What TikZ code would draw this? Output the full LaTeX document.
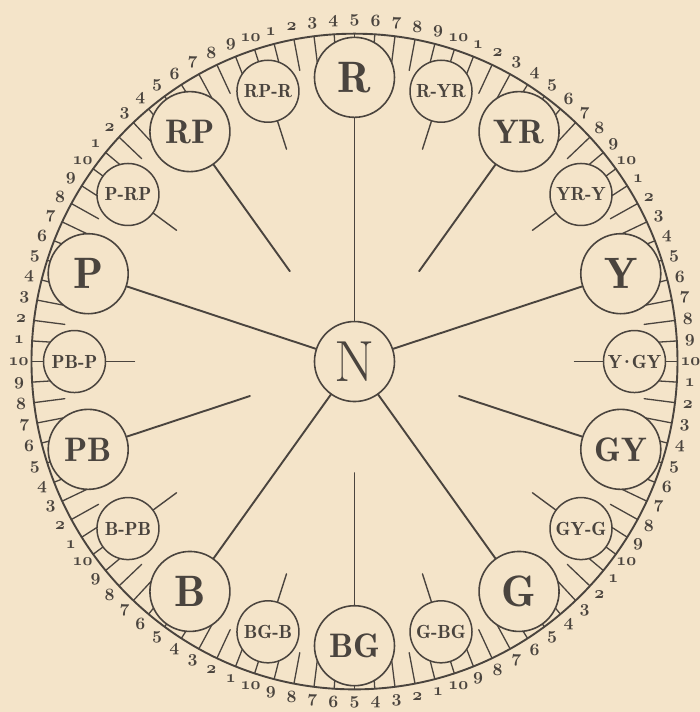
\documentclass[tikz,border=0pt]{standalone}
\definecolor{paper}{RGB}{244,228,201}
\definecolor{ink}{RGB}{74,68,62}
\newcommand{\osnum}[1]{{\fontencoding{OML}\fontfamily{cmm}\fontseries{b}\fontshape{it}\selectfont #1}}
\begin{document}
\begin{tikzpicture}[x=1pt,y=1.015pt,line cap=round,
  bigc/.style={circle,draw=ink,fill=paper,line width=1.6pt,inner sep=0pt,minimum size=80pt,text=ink},
  one/.style={bigc,font=\fontsize{44}{44}\fontseries{b}\selectfont},
  two/.style={bigc,font=\fontsize{34}{34}\fontseries{b}\selectfont},
  ncirc/.style={bigc,font=\fontsize{58}{58}\selectfont},
  smallc/.style={circle,draw=ink,fill=paper,line width=1.5pt,inner sep=0pt,minimum size=62pt,text=ink,font=\fontsize{19}{19}\fontseries{b}\selectfont},
  tickline/.style={draw=ink,line width=1.3pt},
  spoke/.style={draw=ink,line width=1.9pt},
  minispoke/.style={draw=ink,line width=1.4pt},
  num/.style={text=ink,inner sep=0pt,font=\fontsize{18}{18}\selectfont}]
\useasboundingbox[fill=paper] (-354.5,-345.3) rectangle (345.5,356.2);
% ticks and numbers
\foreach \k in {0,...,99}{
  \pgfmathsetmacro\a{90-3.6*\k}
  \pgfmathtruncatemacro\n{mod(\k+4,10)+1}
  \draw[tickline] (\a:323) -- (\a:292);
  \node[num] (num\k) at (\a:336) {\osnum{\n}};
}
\draw[draw=ink,line width=1.9pt] (0,0) circle[radius=323];
% centre
\node[ncirc] (N) at (0,0) {N};
% principal hues
\node[one] (R) at (90:280) {R};
\node[one] (Y) at (18:280) {Y};
\node[one] (G) at (-54:280) {G};
\node[one] (B) at (-126:280) {B};
\node[one] (P) at (162:280) {P};
% secondary hues
\node[two] (YR) at (54:280) {YR};
\node[two] (GY) at (-18:280) {GY};
\node[two] (BG) at (-90:280) {BG};
\node[two] (PB) at (-162:280) {PB};
\node[two] (RP) at (126:280) {RP};
% intermediate hues
\node[smallc] (RYR) at (72:280) {R-YR};
\node[smallc] (YRY) at (36:280) {YR-Y};
\node[smallc] (YGY) at (0:280) {Y\kern-2.5pt\textperiodcentered\kern-2.5pt GY};
\node[smallc] (GYG) at (-36:280) {GY-G};
\node[smallc] (GBG) at (-72:280) {G-BG};
\node[smallc] (BGB) at (-108:280) {BG-B};
\node[smallc] (BPB) at (-144:280) {B-PB};
\node[smallc] (PBP) at (180:280) {PB-P};
\node[smallc] (PRP) at (144:280) {P-RP};
\node[smallc] (RPR) at (108:280) {RP-R};
% inner ends
\foreach \nm/\a in {YR/54,GY/-18,BG/-90,PB/-162,RP/126}{
  \coordinate (\nm end) at (\a:110);
}
\foreach \nm/\a in {RYR/72,YRY/36,YGY/0,GYG/-36,GBG/-72,BGB/-108,BPB/-144,PBP/180,PRP/144,RPR/108}{
  \coordinate (\nm end) at (\a:220);
}
% spokes
\foreach \nm in {R,Y,G,B,P}{ \draw[spoke] (N) -- (\nm); }
\foreach \nm in {YR,GY,BG,PB,RP}{ \draw[spoke] (\nm) -- (\nm end); }
\foreach \nm in {RYR,YRY,YGY,GYG,GBG,BGB,BPB,PBP,PRP,RPR}{ \draw[minispoke] (\nm) -- (\nm end); }
\end{tikzpicture}
\end{document}
